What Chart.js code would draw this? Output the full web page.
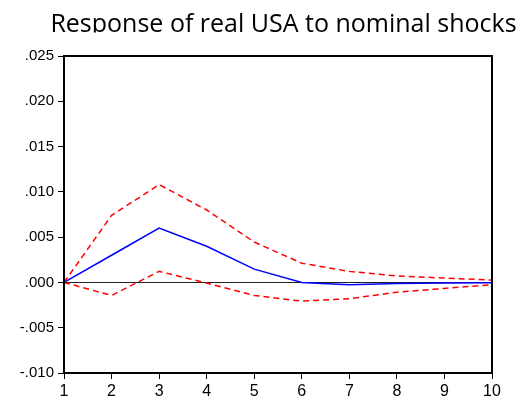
<!DOCTYPE html>
<html>
<head>
<meta charset="utf-8">
<script src="https://cdn.jsdelivr.net/npm/chart.js@4"></script>
<style>
  html, body { margin: 0; padding: 0; background: #fff; }
  #wrap { width: 530px; height: 401px; }
</style>
</head>
<body>
<div id="wrap"><canvas id="irf" width="530" height="401"></canvas></div>
<script>
// impulse response of real USA, periods 1..10
const periods = ["1", "2", "3", "4", "5", "6", "7", "8", "9", "10"];
const response = [0, 0.0030, 0.0060, 0.0040, 0.00147, 0.0000, -0.00025, -0.00012, -0.00005, -0.00003];
const upperBand = [0, 0.0074, 0.0108, 0.0080, 0.00446, 0.00212, 0.00122, 0.00072, 0.00048, 0.00026];
const lowerBand = [0, -0.00144, 0.00122, -0.00007, -0.00144, -0.00207, -0.00180, -0.00108, -0.00066, -0.00026];
const titleText = "Response of real USA to nominal shocks";

// y labels like .025 / .000 / -.005
function fmtTick(v) {
  let s = Math.abs(v).toFixed(3).replace(/^0/, "");
  return (v < -1e-9 ? "-" : "") + s;
}

// box around the plot + the title text, clipped at its baseline like the original export
const framePlugin = {
  id: "frame",
  afterDraw(chart) {
    const { ctx, chartArea } = chart;
    ctx.save();
    ctx.strokeStyle = "#000";
    ctx.lineWidth = 2;
    ctx.strokeRect(chartArea.left, chartArea.top, chartArea.right - chartArea.left, chartArea.bottom - chartArea.top);
    ctx.restore();

    ctx.save();
    ctx.beginPath();
    ctx.rect(0, 0, chart.width, 32.5);
    ctx.clip();
    ctx.fillStyle = "#000";
    ctx.font = '25px "Open Sans"';
    ctx.textAlign = "center";
    ctx.textBaseline = "alphabetic";
    ctx.fillText(titleText, 283.5, 32);
    ctx.restore();
  }
};

const yFont = { family: '"Liberation Sans", Arial', size: 15 };
const xFont = { family: '"Liberation Sans", Arial', size: 16 };

new Chart(document.getElementById("irf"), {
  type: "line",
  data: {
    labels: periods,
    datasets: [
      {
        data: upperBand,
        borderColor: "#ff0000",
        borderWidth: 1.5,
        borderDash: [6, 4],
        pointRadius: 0,
        tension: 0,
        fill: false
      },
      {
        data: response,
        borderColor: "#0000ff",
        borderWidth: 1.5,
        pointRadius: 0,
        tension: 0,
        fill: false
      },
      {
        data: lowerBand,
        borderColor: "#ff0000",
        borderWidth: 1.5,
        borderDash: [6, 4],
        pointRadius: 0,
        tension: 0,
        fill: false
      }
    ]
  },
  options: {
    responsive: false,
    animation: false,
    layout: { padding: { left: 0, right: 38, top: 56, bottom: 0 } },
    plugins: {
      legend: { display: false },
      title: { display: false },
      tooltip: { enabled: false }
    },
    scales: {
      x: {
        type: "category",
        offset: false,
        grid: { drawOnChartArea: false, drawTicks: true, tickLength: 6, color: "#000", lineWidth: 1 },
        border: { color: "#000", width: 2 },
        ticks: { color: "#000", font: xFont, padding: 3, maxRotation: 0, autoSkip: false },
        afterFit(scale) { scale.height = 28; }
      },
      y: {
        min: -0.010,
        max: 0.025,
        grid: {
          drawOnChartArea: true,
          drawTicks: true,
          tickLength: 6,
          color: (c) => (c.tick && Math.abs(c.tick.value) < 1e-9 ? "#222" : "rgba(0,0,0,0)"),
          tickColor: "#000",
          lineWidth: 1
        },
        border: { color: "#000", width: 2 },
        ticks: {
          stepSize: 0.005,
          color: "#000",
          font: yFont,
          padding: 4,
          callback: (v) => fmtTick(v)
        },
        afterFit(scale) { scale.width = 64; }
      }
    }
  },
  plugins: [framePlugin]
});
</script>
</body>
</html>
